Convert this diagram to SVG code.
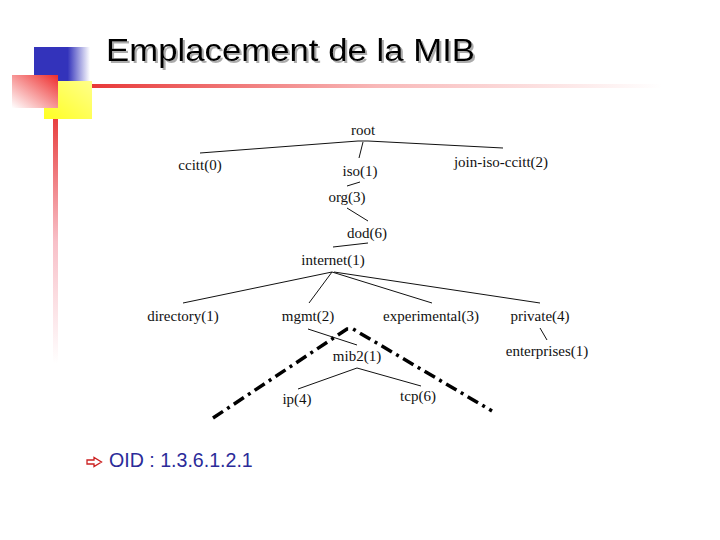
<svg xmlns="http://www.w3.org/2000/svg" width="720" height="540" viewBox="0 0 720 540">
  <defs>
    <linearGradient id="gBlue" x1="0" y1="0" x2="1" y2="0">
      <stop offset="0" stop-color="#3333BB"/>
      <stop offset="0.6" stop-color="#3333BB"/>
      <stop offset="1" stop-color="#FFFFFF"/>
    </linearGradient>
    <linearGradient id="gRedSq" x1="1" y1="0" x2="0" y2="1">
      <stop offset="0" stop-color="#EE2B2B"/>
      <stop offset="1" stop-color="#FFFFFF"/>
    </linearGradient>
    <linearGradient id="gYellow" x1="0" y1="1" x2="1" y2="0">
      <stop offset="0" stop-color="#FFFF22"/>
      <stop offset="1" stop-color="#FFFF8A"/>
    </linearGradient>
    <linearGradient id="gHLine" x1="0" y1="0" x2="1" y2="0">
      <stop offset="0" stop-color="#E83838"/>
      <stop offset="0.5" stop-color="#F8B8B8"/>
      <stop offset="1" stop-color="#FFFFFF"/>
    </linearGradient>
    <linearGradient id="gVLine" x1="0" y1="0" x2="0" y2="1">
      <stop offset="0" stop-color="#E84040"/>
      <stop offset="0.5" stop-color="#F8C0C8"/>
      <stop offset="1" stop-color="#FFFFFF"/>
    </linearGradient>
    <filter id="shadow" x="-5%" y="-20%" width="110%" height="150%">
      <feDropShadow dx="2" dy="2" stdDeviation="0.6" flood-color="#888888" flood-opacity="0.7"/>
    </filter>
  </defs>
  <style>
    .node { font-family: "Liberation Serif", "Times New Roman", serif; font-size: 15px; fill: #111; text-anchor: middle; }
    .edge { stroke: #111; stroke-width: 1; fill: none; }
    .path { stroke: #000; stroke-width: 3.5; fill: none; stroke-dasharray: 12 5 3 5; }
  </style>
  <rect width="720" height="540" fill="#FFFFFF"/>

  <g id="decoration">
    <rect x="34" y="47" width="56" height="36" fill="url(#gBlue)"/>
    <rect x="44" y="81" width="48" height="38" fill="url(#gYellow)"/>
    <rect x="12" y="75" width="46" height="33" fill="url(#gRedSq)"/>
    <rect x="92" y="84" width="570" height="4" fill="url(#gHLine)"/>
    <rect x="53" y="119" width="5" height="245" fill="url(#gVLine)"/>
  </g>

  <g id="title">
    <text x="106" y="61" font-family="Liberation Sans, Arial, sans-serif" font-size="32" fill="#000000" textLength="369" lengthAdjust="spacingAndGlyphs" filter="url(#shadow)">Emplacement de la MIB</text>
  </g>

  <g id="connectors">
    <line class="edge" x1="200" y1="153" x2="358" y2="141"/>
    <line class="edge" x1="358" y1="141" x2="368" y2="141"/>
    <line class="edge" x1="368" y1="141" x2="503" y2="148"/>
    <line class="edge" x1="363" y1="142" x2="359" y2="158"/>
    <line class="edge" x1="360" y1="182" x2="347" y2="186"/>
    <line class="edge" x1="347" y1="208" x2="368" y2="221"/>
    <line class="edge" x1="368" y1="243" x2="333" y2="247"/>
    <line class="edge" x1="332" y1="272" x2="183" y2="303"/>
    <line class="edge" x1="332" y1="272" x2="309" y2="303"/>
    <line class="edge" x1="332" y1="272" x2="432" y2="303"/>
    <line class="edge" x1="334" y1="272" x2="540" y2="303"/>
    <line class="edge" x1="540" y1="328" x2="547" y2="340"/>
    <line class="edge" x1="308" y1="329" x2="357" y2="345"/>
    <line class="edge" x1="357" y1="368" x2="298" y2="389"/>
    <line class="edge" x1="357" y1="368" x2="421" y2="386"/>
    <polyline class="path" points="213,418 347,329 353,329 492,411"/>
  </g>

  <g font-family="Liberation Serif, Times New Roman, serif">
    <g id="n-root"><text class="node" x="363" y="135">root</text></g>
    <g id="n-ccitt"><text class="node" x="200" y="170">ccitt(0)</text></g>
    <g id="n-iso"><text class="node" x="360" y="176">iso(1)</text></g>
    <g id="n-join"><text class="node" x="501" y="167">join-iso-ccitt(2)</text></g>
    <g id="n-org"><text class="node" x="347" y="202">org(3)</text></g>
    <g id="n-dod"><text class="node" x="367" y="238">dod(6)</text></g>
    <g id="n-internet"><text class="node" x="333" y="265">internet(1)</text></g>
    <g id="n-directory"><text class="node" x="183" y="321">directory(1)</text></g>
    <g id="n-mgmt"><text class="node" x="308" y="321">mgmt(2)</text></g>
    <g id="n-experimental"><text class="node" x="431" y="321">experimental(3)</text></g>
    <g id="n-private"><text class="node" x="540" y="321">private(4)</text></g>
    <g id="n-enterprises"><text class="node" x="547" y="356">enterprises(1)</text></g>
    <g id="n-mib2"><text class="node" x="357" y="361">mib2(1)</text></g>
    <g id="n-ip"><text class="node" x="297" y="404">ip(4)</text></g>
    <g id="n-tcp"><text class="node" x="418" y="401">tcp(6)</text></g>
  </g>

  <g id="oid">
    <polygon points="87,460 94,460 94,457.5 101.5,462 94,466.5 94,464 87,464" fill="none" stroke="#CC2222" stroke-width="1.3"/>
    <text x="109" y="467" font-family="Liberation Sans, Arial, sans-serif" font-size="19.6" fill="#2B2B99">OID : 1.3.6.1.2.1</text>
  </g>
</svg>
